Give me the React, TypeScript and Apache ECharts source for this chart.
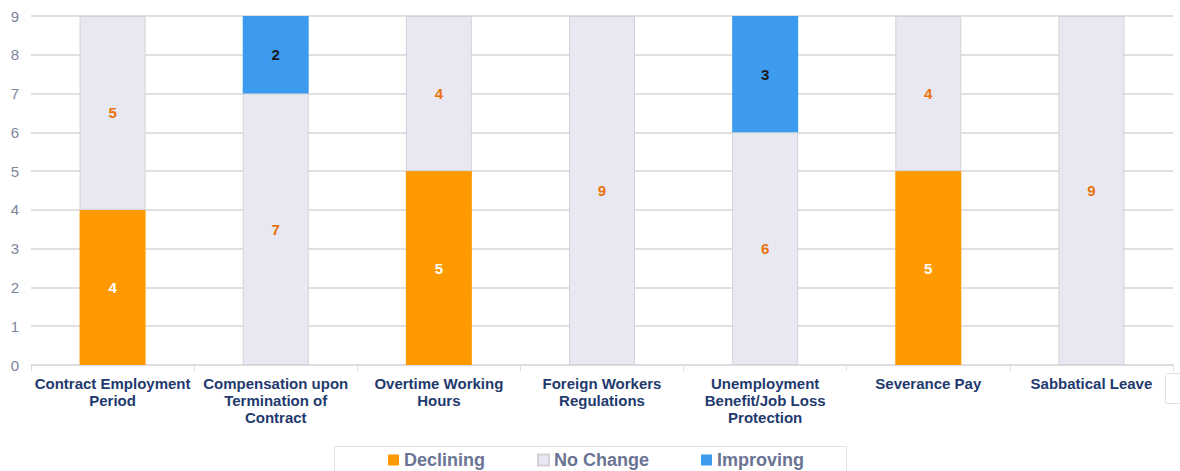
import React, { useEffect, useRef } from "react";
import * as echarts from "echarts";

const categories = [
  "Contract Employment Period",
  "Compensation upon Termination of Contract",
  "Overtime Working Hours",
  "Foreign Workers Regulations",
  "Unemployment Benefit/Job Loss Protection",
  "Severance Pay",
  "Sabbatical Leave",
];
const declining = [4, 0, 5, 0, 0, 5, 0];
const noChange = [5, 7, 4, 9, 6, 4, 9];
const improving = [0, 2, 0, 0, 3, 0, 0];

const FONT = "Liberation Sans, Arial, sans-serif";

function wrapWords(text: string, maxWidth: number, font: string): string {
  const ctx = document.createElement("canvas").getContext("2d");
  if (!ctx) return text;
  ctx.font = font;
  const words = text.split(" ");
  const lines: string[] = [];
  let cur = "";
  for (const w of words) {
    const test = cur ? cur + " " + w : w;
    if (cur && ctx.measureText(test).width > maxWidth) {
      lines.push(cur);
      cur = w;
    } else {
      cur = test;
    }
  }
  if (cur) lines.push(cur);
  return lines.join("\n");
}

export default function App() {
  const ref = useRef<HTMLDivElement>(null);
  useEffect(() => {
    if (!ref.current) return;
    const chart = echarts.init(ref.current, null, { renderer: "svg" });
    const lbl = (color: string) => ({
      show: true,
      position: "inside",
      color,
      fontSize: 15,
      fontWeight: "bold",
      fontFamily: FONT,
      formatter: (p: any) => (p.value ? String(p.value) : ""),
    });
    chart.setOption({
      animation: false,
      grid: { left: 31, right: 7, top: 16, bottom: 106 },
      legend: {
        top: 446,
        left: 383,
        itemWidth: 11,
        itemHeight: 11,
        itemGap: 52,
        icon: "rect",
        textStyle: {
          color: "#6b7394",
          fontSize: 18,
          fontWeight: "bold",
          fontFamily: FONT,
        },
        data: ["Declining", "No Change", "Improving"],
      },
      graphic: [
        {
          type: "rect",
          x: 334.5,
          y: 446.5,
          shape: { width: 512, height: 40 },
          style: { fill: "none", stroke: "#e0e0e0", lineWidth: 1 },
          z: -1,
        },
        {
          type: "rect",
          x: 1165.5,
          y: 373.5,
          shape: { width: 22, height: 30, r: 2 },
          style: { fill: "#fff", stroke: "#e0e0e0", lineWidth: 1 },
        },
      ],
      xAxis: {
        type: "category",
        data: categories,
        axisLine: { lineStyle: { color: "#dcdce0", width: 1.5 } },
        axisTick: { show: true, length: 6, lineStyle: { color: "#dcdce0" } },
        axisLabel: {
          color: "#1f3a6e",
          fontSize: 15,
          fontWeight: "bold",
          fontFamily: FONT,
          lineHeight: 17,
          interval: 0,
          margin: 10,
          formatter: (v: string) => wrapWords(v, 160, "bold 15px " + FONT),
        },
      },
      yAxis: {
        type: "value",
        min: 0,
        max: 9,
        interval: 1,
        axisLine: { show: false },
        axisTick: { show: false },
        axisLabel: {
          color: "#7d849e",
          fontSize: 15,
          fontFamily: FONT,
          margin: 12,
        },
        splitLine: { lineStyle: { color: "#d6d6d9", width: 1.5 } },
      },
      series: [
        {
          name: "Declining",
          type: "bar",
          stack: "s",
          barWidth: 66,
          data: declining,
          itemStyle: { color: "#ff9900" },
          label: lbl("#ffffff"),
        },
        {
          name: "No Change",
          type: "bar",
          stack: "s",
          barWidth: 66,
          data: noChange,
          itemStyle: { color: "#e8e8f2", borderColor: "#d2d2d8", borderWidth: 1 },
          label: lbl("#e8730c"),
        },
        {
          name: "Improving",
          type: "bar",
          stack: "s",
          barWidth: 66,
          data: improving,
          itemStyle: { color: "#3d9bef" },
          label: lbl("#1a1a1a"),
        },
      ],
    });
    return () => chart.dispose();
  }, []);
  return <div ref={ref} style={{ width: 1180, height: 471, position: "absolute", left: 0, top: 0 }} />;
}
